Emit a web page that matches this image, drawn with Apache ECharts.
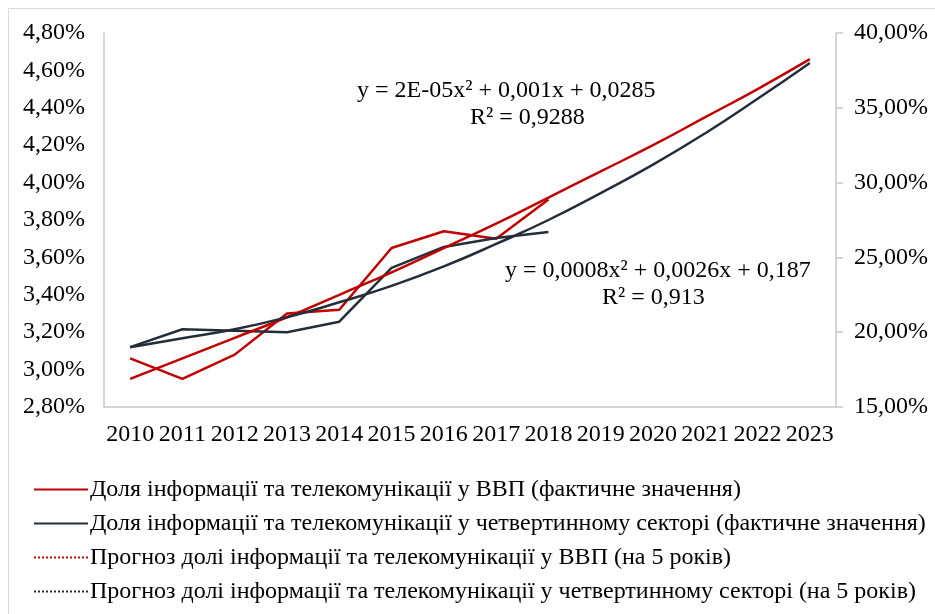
<!DOCTYPE html>
<html>
<head>
<meta charset="utf-8">
<script src="https://cdn.jsdelivr.net/npm/echarts@6/dist/echarts.min.js"></script>
<style>
  html, body { margin: 0; padding: 0; background: #fff; }
  #chart { width: 935px; height: 614px; }
</style>
</head>
<body>
<div id="chart"></div>
<script>
const years = ["2010", "2011", "2012", "2013", "2014", "2015", "2016", "2017", "2018", "2019", "2020", "2021", "2022", "2023"];

// share in GDP, % (left axis)
const gdpActual = [3.06, 2.95, 3.08, 3.30, 3.32, 3.65, 3.74, 3.70, 3.91];
const gdpForecast = [2.95, 3.06, 3.17, 3.28, 3.40, 3.52, 3.65, 3.78, 3.92, 4.06, 4.20, 4.35, 4.50, 4.66];

// share in quaternary sector, % (right axis)
const quatActual = [19.0, 20.2, 20.1, 20.0, 20.7, 24.3, 25.7, 26.3, 26.7];
const quatForecast = [19.0, 19.6, 20.2, 21.0, 22.0, 23.1, 24.4, 25.9, 27.5, 29.3, 31.2, 33.3, 35.6, 38.0];

const names = [
  "Доля інформації та телекомунікації у ВВП (фактичне значення)",
  "Доля інформації та телекомунікації у четвертинному секторі (фактичне значення)",
  "Прогноз долі інформації та телекомунікації у ВВП (на 5 років)",
  "Прогноз долі інформації та телекомунікації у четвертинному секторі (на 5 років)"
];

const red = "#C00000";
const dark = "#242E3A";
const font = "'Liberation Serif', 'Times New Roman', serif";
const pct = v => v.toFixed(2).replace(".", ",") + "%";

const chart = echarts.init(document.getElementById("chart"));

const noDot = { color: "transparent", borderWidth: 0 };

const option = {
  animation: false,
  textStyle: { fontFamily: font },
  grid: { left: 104, right: 99, top: 33, bottom: 207 },
  legend: {
    orient: "vertical",
    left: 28,
    top: 472,
    itemWidth: 54,
    itemHeight: 14,
    itemGap: 9,
    textStyle: { fontFamily: font, fontSize: 24, color: "#000", lineHeight: 25, padding: [0, 0, 0, -3] },
    data: [
      { name: names[0], itemStyle: noDot },
      { name: names[1], itemStyle: noDot },
      { name: names[2], itemStyle: noDot, lineStyle: { type: "dotted", width: 2 } },
      { name: names[3], itemStyle: noDot, lineStyle: { type: "dotted", width: 2 } }
    ]
  },
  xAxis: {
    type: "category",
    data: years,
    boundaryGap: true,
    axisLine: { lineStyle: { color: "#c8c8c8", width: 1.5 } },
    axisTick: { show: false },
    axisLabel: { interval: 0, color: "#000", fontFamily: font, fontSize: 24, margin: 16 }
  },
  yAxis: [
    {
      type: "value",
      min: 2.8,
      max: 4.8,
      interval: 0.2,
      splitLine: { show: false },
      axisLine: { show: true, lineStyle: { color: "#c8c8c8", width: 1.5 } },
      axisTick: { show: false },
      axisLabel: { color: "#000", fontFamily: font, fontSize: 24, margin: 19, formatter: pct }
    },
    {
      type: "value",
      min: 15,
      max: 40,
      interval: 5,
      position: "right",
      splitLine: { show: false },
      axisLine: { show: true, lineStyle: { color: "#c8c8c8", width: 1.5 } },
      axisTick: { show: true, length: 7, lineStyle: { color: "#c8c8c8", width: 1.5 } },
      axisLabel: { color: "#000", fontFamily: font, fontSize: 24, margin: 18, formatter: pct }
    }
  ],
  series: [
    {
      name: names[0], type: "line", yAxisIndex: 0, data: gdpActual,
      symbol: "none", lineStyle: { color: red, width: 2.5 }, itemStyle: { color: red }
    },
    {
      name: names[1], type: "line", yAxisIndex: 1, data: quatActual,
      symbol: "none", lineStyle: { color: dark, width: 2.5 }, itemStyle: { color: dark }
    },
    {
      name: names[2], type: "line", yAxisIndex: 0, data: gdpForecast, smooth: true,
      symbol: "none", lineStyle: { color: red, width: 2.5 }, itemStyle: { color: red }
    },
    {
      name: names[3], type: "line", yAxisIndex: 1, data: quatForecast, smooth: true,
      symbol: "none", lineStyle: { color: dark, width: 2.5 }, itemStyle: { color: dark }
    }
  ],
  graphic: [
    {
      type: "rect", silent: true, z: -1,
      shape: { x: 8.5, y: 8.5, width: 1000, height: 700 },
      style: { fill: "none", stroke: "#d9d9d9", lineWidth: 1 }
    },
    {
      type: "text", left: 357, top: 79,
      style: { text: "y = 2E-05x² + 0,001x + 0,0285", font: "24px " + font, fill: "#000" }
    },
    {
      type: "text", left: 470, top: 106,
      style: { text: "R² = 0,9288", font: "24px " + font, fill: "#000" }
    },
    {
      type: "text", left: 505, top: 259,
      style: { text: "y = 0,0008x² + 0,0026x + 0,187", font: "24px " + font, fill: "#000" }
    },
    {
      type: "text", left: 602, top: 286,
      style: { text: "R² = 0,913", font: "24px " + font, fill: "#000" }
    }
  ]
};

chart.setOption(option);
</script>
</body>
</html>
